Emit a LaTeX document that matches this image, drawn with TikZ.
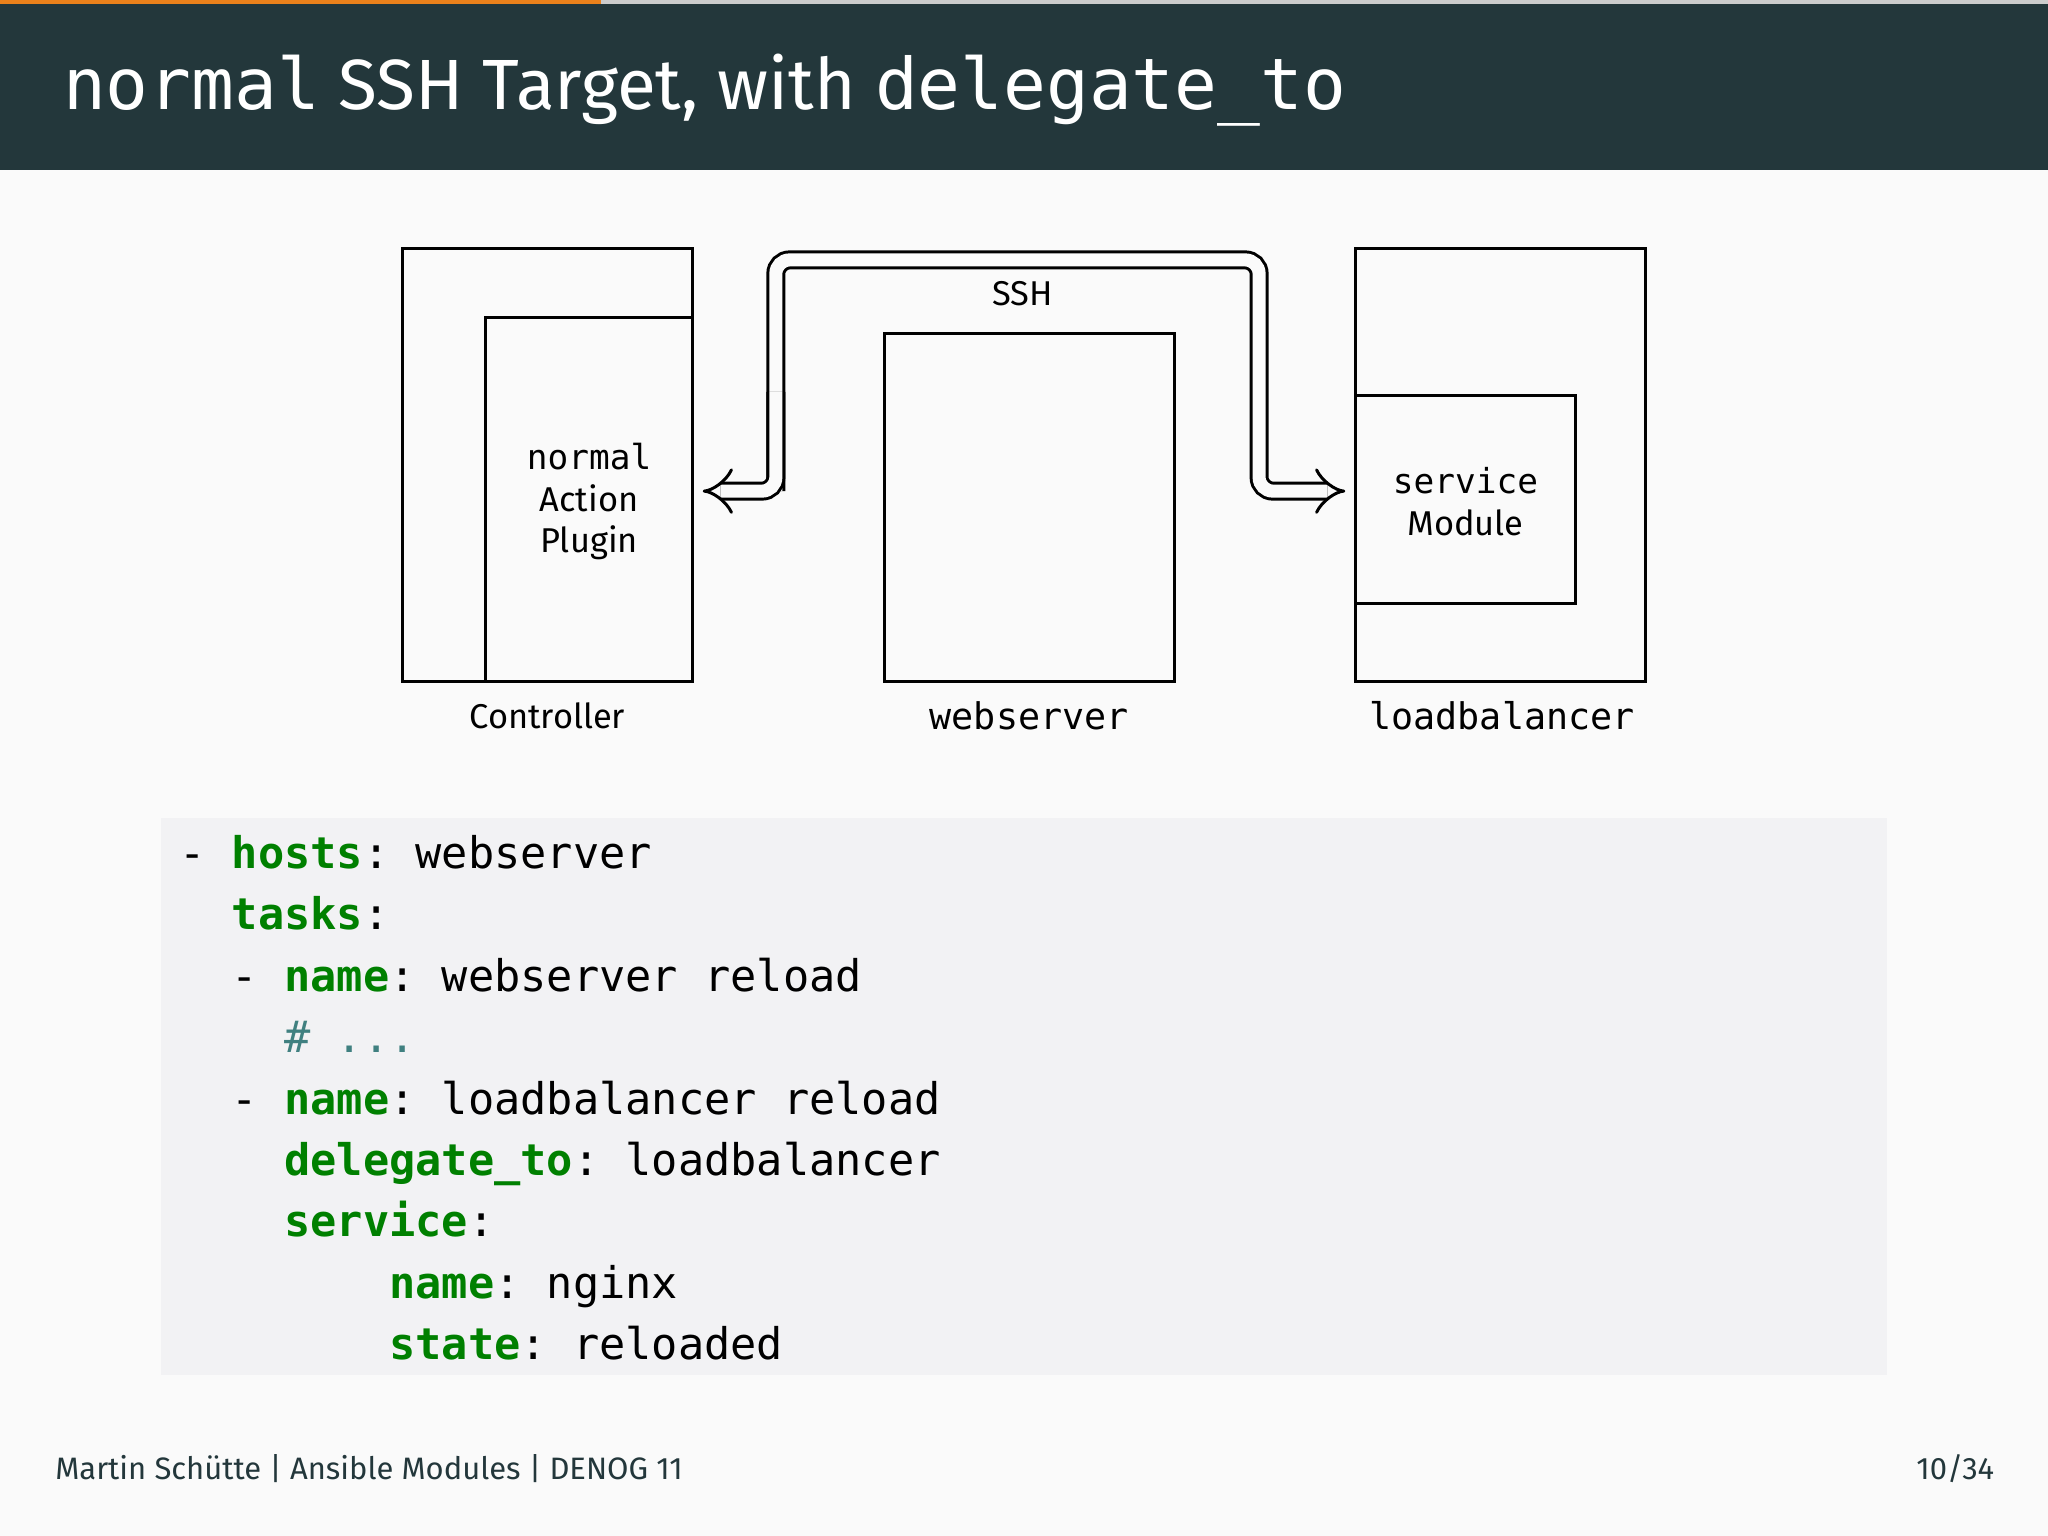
\documentclass[tikz,border=0pt]{standalone}
\usepackage{fontspec}
\setmainfont{Fira Sans}
\setmonofont{DejaVu Sans Mono}
\usetikzlibrary{arrows.meta}
\definecolor{hdr}{HTML}{23373B}
\definecolor{org}{HTML}{EB811B}
\definecolor{bg}{HTML}{FAFAFA}
\definecolor{codebg}{HTML}{F2F2F4}
\definecolor{kw}{HTML}{008000}
\definecolor{cm}{HTML}{408080}
\begin{document}
\begin{tikzpicture}[x=0.02cm,y=-0.02cm,
  box/.style={draw,line width=1.3pt},
  lbl/.style={font=\fontsize{15}{18}\selectfont},
  mlbl/.style={font=\fontsize{16}{18}\ttfamily},
  codel/.style={anchor=base west,inner sep=0,font=\fontsize{19}{22}\ttfamily}]
\useasboundingbox (0,0) rectangle (1568,1176);
\fill[bg] (0,0) rectangle (1568,1176);
\fill[hdr] (0,0) rectangle (1568,130);
\fill[gray!40] (0,0) rectangle (1568,3);
\fill[org] (0,0) rectangle (460,3);
\node[anchor=base west,inner sep=0,text=white,font=\fontsize{31}{36}\selectfont] (title) at (48,84) {\texttt{normal} SSH Target, with \texttt{delegate\_to}};
% boxes
\draw[box] (308,190) rectangle (530,522);
\draw[box] (372,522) -- (372,243) -- (530,243);
\node[align=center,lbl,font=\fontsize{15}{18}\selectfont] (nap) at (451,384) {\texttt{normal}\\Action\\Plugin};
\coordinate (capL) at (538,376);
\node[lbl] (ctl) at (419,548) {Controller};
\draw[box] (677,255) rectangle (899,522);
\node[mlbl] (web) at (788,548) {webserver};
\node[lbl] (ssh) at (783,225) {SSH};
\draw[box] (1038,190) rectangle (1260,522);
\draw[box] (1038,303) rectangle (1206,462);
\node[align=center,lbl] (svc) at (1122,384) {\texttt{service}\\Module};
\coordinate (capR) at (1030,376);
\node[mlbl] (lb) at (1150,548) {loadbalancer};
\draw[line width=1.3pt,double=bg,double distance=0.2cm,rounded corners=6pt,-{Implies},shorten >=0pt]
  (594,376) -- (594,199) -- (964,199) -- (964,376) -- (capR);
\draw[line width=1.3pt,double=bg,double distance=0.2cm,rounded corners=6pt,-{Implies}]
  (594,300) -- (594,376) -- (capL);
% code
\fill[codebg] (123,626) rectangle (1445,1053);
\node[codel] (c1) at (137,665) {- \textbf{\color{kw}hosts}: webserver};
\node[codel] (c2) at (137,712) {\phantom{- }\textbf{\color{kw}tasks}:};
\node[codel] (c3) at (137,759) {\phantom{- }- \textbf{\color{kw}name}: webserver reload};
\node[codel] (c4) at (137,806) {\phantom{- - }\color{cm}\# ...};
\node[codel] (c5) at (137,853) {\phantom{- }- \textbf{\color{kw}name}: loadbalancer reload};
\node[codel] (c6) at (137,900) {\phantom{- - }\textbf{\color{kw}delegate\_to}: loadbalancer};
\node[codel] (c7) at (137,947) {\phantom{- - }\textbf{\color{kw}service}:};
\node[codel] (c8) at (137,994) {\phantom{- - \ \ \ \ }\textbf{\color{kw}name}: nginx};
\node[codel] (c9) at (137,1041) {\phantom{- - \ \ \ \ }\textbf{\color{kw}state}: reloaded};
% footer
\node[anchor=base west,inner sep=0,text=hdr,font=\fontsize{13.5}{16}\selectfont] (ft) at (42,1133) {Martin Schütte | Ansible Modules | DENOG 11};
\node[anchor=base east,inner sep=0,text=hdr,font=\fontsize{13.5}{16}\selectfont] (pg) at (1527,1133) {10/34};
\end{tikzpicture}
\end{document}
